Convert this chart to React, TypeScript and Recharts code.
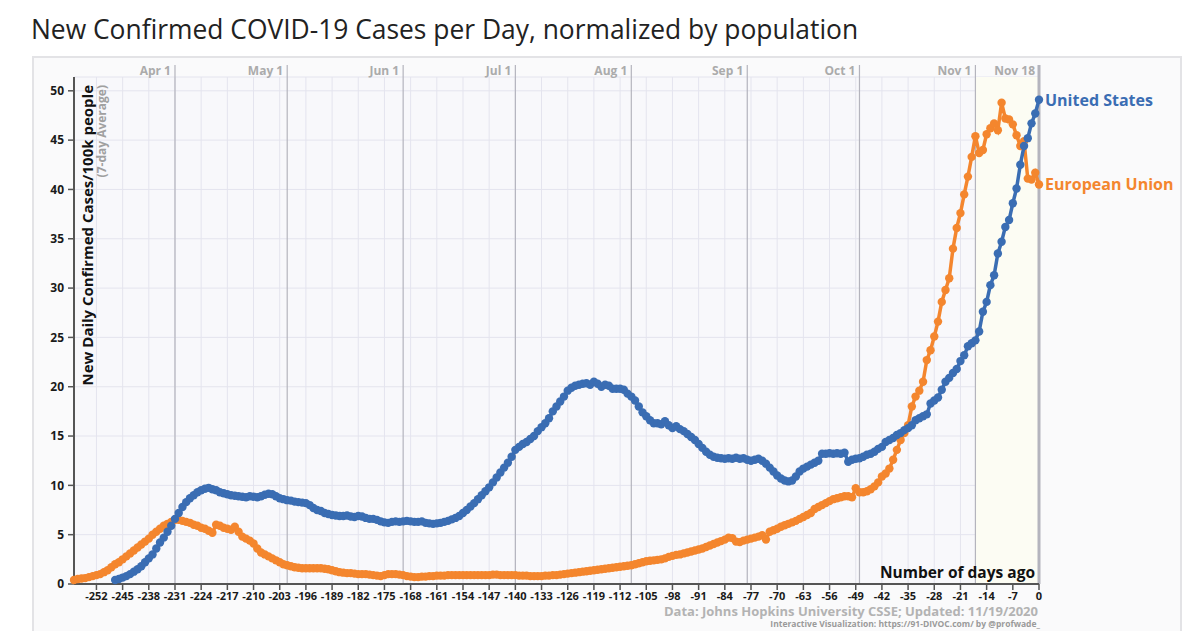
import {
  LineChart,
  Line,
  XAxis,
  YAxis,
  CartesianGrid,
  ReferenceLine,
  ReferenceArea,
} from 'recharts'

// days are counted back from Nov 18 (day 0)
const EU_FIRST_DAY = -258
const US_FIRST_DAY = -247

// new cases / 100k people, 7-day average, one value per day
const euCases = [
  0.4, 0.5, 0.55, 0.6, 0.7, 0.8, 0.9, 1.0, 1.2, 1.4,
  1.7, 2.0, 2.2, 2.5, 2.8, 3.1, 3.4, 3.7, 4.0, 4.3,
  4.6, 5.0, 5.3, 5.6, 5.9, 6.1, 6.3, 6.5, 6.5, 6.4,
  6.3, 6.2, 6.0, 5.9, 5.7, 5.6, 5.4, 5.2, 6.0, 5.9,
  5.7, 5.6, 5.5, 5.8, 5.3, 4.8, 4.6, 4.4, 4.1, 3.6,
  3.2, 3.0, 2.8, 2.6, 2.4, 2.2, 2.0, 1.9, 1.8, 1.7,
  1.65, 1.6, 1.6, 1.6, 1.6, 1.6, 1.6, 1.55, 1.5, 1.4,
  1.3, 1.2, 1.15, 1.1, 1.1, 1.05, 1.0, 1.0, 1.0, 0.95,
  0.9, 0.85, 0.8, 0.9, 1.0, 1.0, 1.0, 0.95, 0.9, 0.8,
  0.75, 0.7, 0.7, 0.75, 0.75, 0.8, 0.8, 0.85, 0.85, 0.85,
  0.9, 0.9, 0.9, 0.9, 0.9, 0.9, 0.9, 0.9, 0.9, 0.9,
  0.9, 0.9, 0.95, 0.95, 0.9, 0.9, 0.9, 0.9, 0.9, 0.85,
  0.85, 0.85, 0.8, 0.8, 0.8, 0.8, 0.85, 0.85, 0.9, 0.9,
  0.95, 1.0, 1.05, 1.1, 1.15, 1.2, 1.25, 1.3, 1.35, 1.4,
  1.45, 1.5, 1.55, 1.6, 1.65, 1.7, 1.75, 1.8, 1.85, 1.9,
  2.0, 2.1, 2.2, 2.3, 2.35, 2.4, 2.45, 2.5, 2.6, 2.75,
  2.85, 2.95, 3.0, 3.1, 3.2, 3.3, 3.4, 3.5, 3.6, 3.75,
  3.9, 4.05, 4.2, 4.35, 4.5, 4.7, 4.65, 4.3, 4.25, 4.4,
  4.5, 4.6, 4.7, 4.8, 4.95, 4.5, 5.3, 5.45, 5.6, 5.8,
  5.95, 6.1, 6.25, 6.4, 6.6, 6.8, 7.0, 7.2, 7.6, 7.8,
  8.0, 8.2, 8.4, 8.6, 8.7, 8.8, 8.9, 8.9, 8.8, 9.7,
  9.3, 9.3, 9.4, 9.6, 9.9, 10.3, 10.9, 11.2, 11.7, 12.6,
  13.6, 14.6, 15.3, 16.1, 18.0, 19.0, 19.6, 20.5, 22.7, 23.7,
  25.1, 26.6, 28.6, 29.8, 31.0, 34.0, 36.1, 37.6, 39.5, 41.3,
  43.3, 45.4, 43.7, 44.0, 45.6, 46.2, 46.7, 46.0, 48.8, 47.2,
  47.1, 46.6, 45.5, 44.4, 44.9, 41.1, 41.0, 41.7, 40.5,
]

const usCases = [
  0.4, 0.5, 0.65, 0.8, 1.0, 1.25, 1.5, 1.8, 2.2, 2.6,
  3.0, 3.6, 4.2, 4.7, 5.3, 5.9, 6.6, 7.2, 7.8, 8.3,
  8.7, 9.0, 9.3, 9.5, 9.65, 9.75, 9.6, 9.5, 9.3, 9.2,
  9.1, 9.0, 8.95, 8.9, 8.85, 8.8, 8.9, 8.85, 8.8, 8.9,
  9.05, 9.15, 9.1, 8.9, 8.7, 8.6, 8.5, 8.45, 8.35, 8.3,
  8.25, 8.2, 8.0, 7.7, 7.5, 7.4, 7.2, 7.1, 7.0, 6.95,
  6.9, 6.9, 6.95, 6.85, 6.8, 6.9, 6.85, 6.7, 6.6, 6.6,
  6.5, 6.35, 6.25, 6.2, 6.3, 6.35, 6.3, 6.35, 6.4, 6.35,
  6.3, 6.3, 6.35, 6.2, 6.15, 6.1, 6.15, 6.2, 6.3, 6.4,
  6.55, 6.7, 6.9, 7.2, 7.5, 7.85, 8.2, 8.6, 9.0, 9.4,
  9.8, 10.3, 10.8, 11.3, 11.8, 12.3, 12.9, 13.6, 13.9, 14.2,
  14.4, 14.7, 15.0, 15.5, 15.9, 16.3, 16.8, 17.5, 18.0, 18.5,
  19.0, 19.6, 19.9, 20.1, 20.2, 20.3, 20.35, 20.2, 20.5, 20.3,
  20.0, 20.2, 20.1, 19.8, 19.8, 19.8, 19.7, 19.3, 19.0, 18.6,
  18.0, 17.4, 17.0, 16.6, 16.3, 16.3, 16.2, 16.5, 16.1, 15.8,
  16.0, 15.7, 15.5, 15.2, 14.9, 14.6, 14.2, 13.8, 13.4, 13.1,
  12.9, 12.8, 12.75, 12.7, 12.75, 12.7, 12.8, 12.7, 12.75, 12.6,
  12.5, 12.6, 12.7, 12.5, 12.2, 11.8, 11.4, 11.0, 10.7, 10.5,
  10.4, 10.5, 10.9, 11.4, 11.7, 11.9, 12.1, 12.3, 12.5, 13.2,
  13.2, 13.25, 13.2, 13.25, 13.2, 13.3, 12.4, 12.6, 12.7, 12.75,
  12.9, 13.1, 13.2, 13.4, 13.7, 13.9, 14.4, 14.6, 14.8, 15.1,
  15.3, 15.6, 15.8, 16.1, 16.6, 16.8, 17.0, 17.2, 18.3, 18.6,
  18.9, 19.7, 20.5, 20.9, 21.4, 21.8, 22.6, 23.2, 24.1, 24.4,
  24.7, 25.6, 27.6, 28.6, 30.3, 31.3, 33.5, 34.7, 36.2, 36.9,
  38.6, 40.1, 42.5, 44.4, 45.2, 46.7, 47.7, 49.1,
]

const dayTicks = [
  -252, -245, -238, -231, -224, -217, -210, -203, -196, -189, -182, -175,
  -168, -161, -154, -147, -140, -133, -126, -119, -112, -105, -98, -91, -84,
  -77, -70, -63, -56, -49, -42, -35, -28, -21, -14, -7, 0,
]
const valueTicks = [0, 5, 10, 15, 20, 25, 30, 35, 40, 45, 50]

const monthDays = [-231, -201, -170, -140, -109, -78, -48, -17, 0]
const monthNames = ['Apr 1', 'May 1', 'Jun 1', 'Jul 1', 'Aug 1', 'Sep 1', 'Oct 1', 'Nov 1', 'Nov 18']

const US_COLOR = '#3a6db3'
const EU_COLOR = '#f4862e'
const FONT = '"Open Sans", sans-serif'

const rows = euCases.map((eu, i) => {
  const day = EU_FIRST_DAY + i
  const u = day - US_FIRST_DAY
  return { day, eu, us: u >= 0 ? usCases[u] : null }
})

const monthLabel = (text: string) => (props: any) => {
  const { x, y } = props.viewBox
  return (
    <g>
      <line x1={x} x2={x} y1={y - 12} y2={y} stroke="#b4b4bd" strokeWidth={text === 'Nov 18' ? 3 : 1.2} />
      <text x={x - 4} y={y - 2} textAnchor="end" fontFamily={FONT} fontWeight={700} fontSize={12} fill="#ababab">
        {text}
      </text>
    </g>
  )
}

const endLabel = (text: string, color: string, dy: number) => (props: any) => {
  if (props.index !== rows.length - 1) return null
  return (
    <text x={props.x + 6} y={props.y + dy} fontFamily={FONT} fontWeight={700} fontSize={16} fill={color}>
      {text}
    </text>
  )
}

const yTitle = (props: any) => {
  const top = props.viewBox.y + 8
  return (
    <g fontFamily={FONT} fontWeight={700}>
      <text transform={`translate(93, ${top}) rotate(-90)`} textAnchor="end" fontSize={15} fill="#111">
        New Daily Confirmed Cases/100k people
      </text>
      <text transform={`translate(106, ${top}) rotate(-90)`} textAnchor="end" fontSize={12} fill="#a0a0a0">
        (7-day Average)
      </text>
    </g>
  )
}

const xTitle = () => (
  <g fontFamily={FONT} fontWeight={700}>
    <text x={1035} y={578} textAnchor="end" fontSize={15.5} fill="#111">
      Number of days ago
    </text>
    <text x={1038} y={616} textAnchor="end" fontSize={13} fill="#b3b3b3">
      Data: Johns Hopkins University CSSE; Updated: 11/19/2020
    </text>
    <text x={1040} y={627} textAnchor="end" fontSize={8.5} fill="#9a9a9a">
      Interactive Visualization: https://91-DIVOC.com/ by @profwade_
    </text>
  </g>
)

export default function App() {
  return (
    <div style={{ position: 'relative', width: 1200, height: 631, overflow: 'hidden', background: '#fff' }}>
      <style>{'body{margin:0}'}</style>
      <div
        style={{
          position: 'absolute',
          left: 32,
          top: 56,
          width: 1146,
          height: 600,
          border: '2px solid #e3e3e6',
          background: '#fafafb',
        }}
      />
      <div
        style={{
          position: 'absolute',
          left: 31,
          top: 11,
          fontFamily: FONT,
          fontSize: 26.4,
          fontWeight: 500,
          color: '#222',
          whiteSpace: 'nowrap',
        }}
      >
        New Confirmed COVID-19 Cases per Day, normalized by population
      </div>
      <div style={{ position: 'absolute', left: 0, top: 0 }}>
        <LineChart width={1200} height={631} data={rows} margin={{ top: 77, right: 161, bottom: 17, left: 34 }}>
          <CartesianGrid stroke="#e4e4ee" strokeWidth={1} fill="#f8f8fb" />
          <ReferenceArea x1={-17} x2={0} fill="#fcfcf3" fillOpacity={1} stroke="none" />
          <XAxis
            dataKey="day"
            type="number"
            domain={[EU_FIRST_DAY, 0]}
            ticks={dayTicks}
            interval={0}
            height={30}
            tickSize={6}
            tickMargin={2}
            axisLine={{ stroke: '#555', strokeWidth: 2 }}
            tickLine={{ stroke: '#555', strokeWidth: 1.5 }}
            tick={{ fontSize: 11, fontWeight: 700, fill: '#1a1a1a', fontFamily: FONT }}
            label={xTitle}
          />
          <YAxis
            type="number"
            domain={[0, 51.4]}
            ticks={valueTicks}
            interval={0}
            width={40}
            tickSize={6}
            tickMargin={4}
            axisLine={{ stroke: '#555', strokeWidth: 2 }}
            tickLine={{ stroke: '#555', strokeWidth: 1.5 }}
            tick={{ fontSize: 12, fontWeight: 700, fill: '#1a1a1a', fontFamily: FONT }}
            label={yTitle}
          />
          {monthDays.map((d, i) => (
            <ReferenceLine
              key={d}
              x={d}
              stroke="#b4b4bd"
              strokeWidth={d === 0 ? 3 : 1.2}
              label={monthLabel(monthNames[i])}
            />
          ))}
          <Line
            type="linear"
            dataKey="eu"
            stroke={EU_COLOR}
            strokeWidth={3.5}
            dot={{ r: 4.2, fill: EU_COLOR, stroke: 'none' }}
            isAnimationActive={false}
            label={endLabel('European Union', EU_COLOR, 5)}
          />
          <Line
            type="linear"
            dataKey="us"
            stroke={US_COLOR}
            strokeWidth={3.5}
            dot={{ r: 4.2, fill: US_COLOR, stroke: 'none' }}
            isAnimationActive={false}
            label={endLabel('United States', US_COLOR, 6)}
          />
        </LineChart>
      </div>
    </div>
  )
}
